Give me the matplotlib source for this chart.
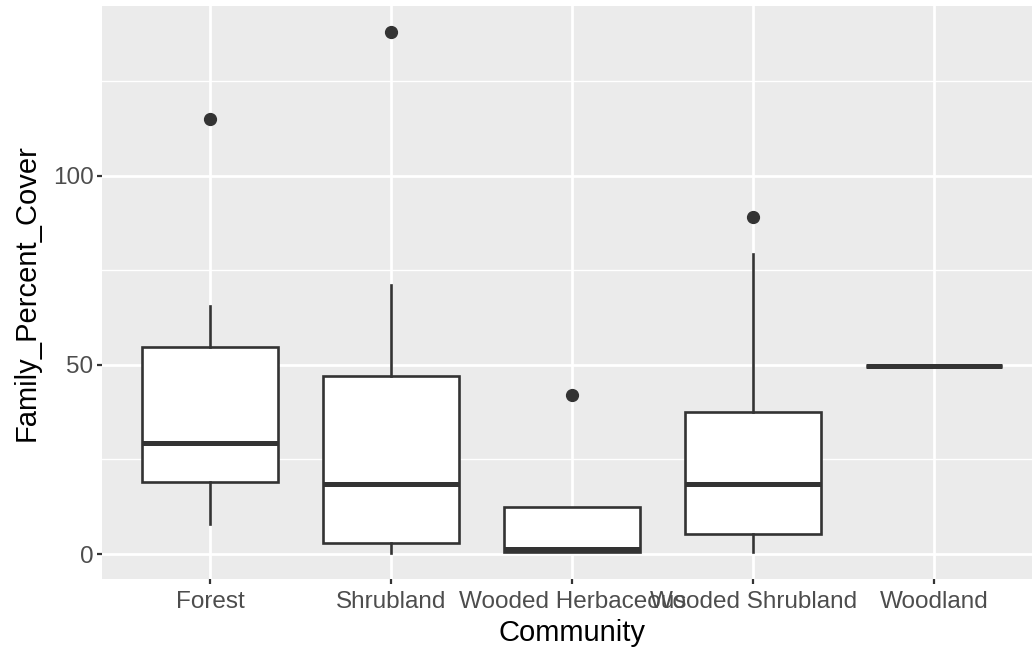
import matplotlib
matplotlib.use('Agg')
import matplotlib.pyplot as plt
from matplotlib.ticker import FixedLocator

# summary values
categories = ['Forest', 'Shrubland', 'Wooded Herbaceous', 'Wooded Shrubland', 'Woodland']
whislo = [7.9, 0.3, 0.5, 0.6, 49.6]
q1 = [19.0, 2.8, 0.5, 5.3, 49.6]
med = [29.3, 18.4, 1.4, 18.5, 49.6]
q3 = [54.8, 47.1, 12.5, 37.5, 49.6]
whishi = [65.6, 71.2, 12.5, 79.2, 49.6]
outliers = [[114.9], [138.0], [42.1], [89.0], []]

plt.rcParams['font.family'] = ['Liberation Sans', 'DejaVu Sans']

fig = plt.figure(figsize=(10.32, 6.49), dpi=100)
ax = fig.add_axes([0.0985, 0.1079, 0.912, 0.8829])

stats = []
for i, name in enumerate(categories):
    stats.append({'label': name, 'whislo': whislo[i], 'q1': q1[i], 'med': med[i],
                  'q3': q3[i], 'whishi': whishi[i], 'fliers': outliers[i]})

dark = '#333333'
ax.bxp(stats, positions=range(1, len(categories) + 1), widths=0.75,
       showcaps=False, patch_artist=True,
       boxprops=dict(facecolor='white', edgecolor=dark, linewidth=1.9),
       medianprops=dict(color=dark, linewidth=3.6, solid_capstyle='butt'),
       whiskerprops=dict(color=dark, linewidth=1.9),
       flierprops=dict(marker='o', markerfacecolor=dark, markeredgecolor=dark,
                       markersize=8.5, linestyle='none'))

ax.set_xlim(0.4, 5.6)
ax.set_ylim(-6.6, 144.9)
ax.set_yticks([0, 50, 100])
ax.yaxis.set_minor_locator(FixedLocator([25, 75, 125]))

ax.set_facecolor('#EBEBEB')
ax.set_axisbelow(True)
ax.grid(which='major', color='white', linewidth=2.0)
ax.grid(which='minor', axis='y', color='white', linewidth=1.0)
for s in ax.spines.values():
    s.set_visible(False)

ax.tick_params(which='major', length=3.8, width=1.6, color=dark,
               labelsize=17.5, labelcolor='#4D4D4D', pad=2)
ax.tick_params(axis='x', which='major', pad=5)
ax.tick_params(which='minor', length=0)

ax.set_xlabel('Community', fontsize=21, color='black', labelpad=4)
ax.set_ylabel('Family_Percent_Cover', fontsize=21, color='black', labelpad=9)

fig.savefig('out.png', dpi=100)
